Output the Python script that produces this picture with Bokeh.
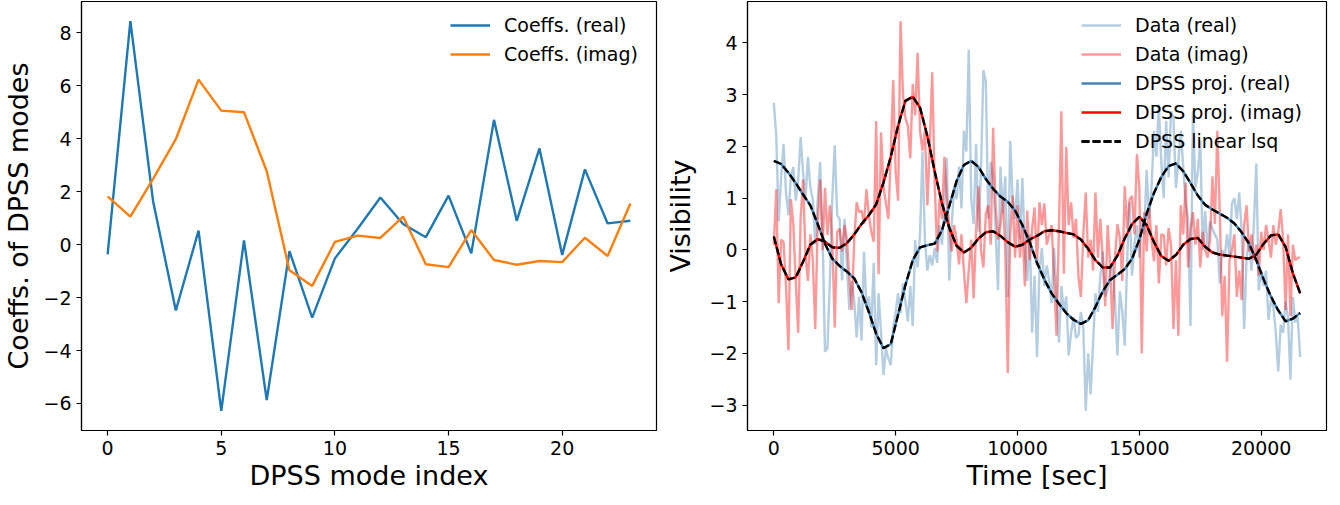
from bokeh.plotting import figure
from bokeh.layouts import row
from bokeh.models import Range1d, FixedTicker, CustomJSTickFormatter
from bokeh.embed import file_html
from bokeh.resources import INLINE

# ---------------- data: left panel ----------------
mode_index = list(range(24))
coeff_real = [-0.37, 8.44, 1.64, -2.49, 0.53, -6.28, 0.16, -5.87, -0.25, -2.76,
              -0.52, 0.60, 1.78, 0.78, 0.28, 1.85, -0.33, 4.71, 0.90, 3.63,
              -0.39, 2.84, 0.80, 0.90]
coeff_imag = [1.82, 1.06, 2.48, 3.98, 6.23, 5.06, 5.00, 2.77, -0.97, -1.56,
              0.10, 0.34, 0.25, 1.06, -0.74, -0.85, 0.55, -0.58, -0.76, -0.62,
              -0.66, 0.26, -0.43, 1.55]

# ---------------- data: right panel ----------------
time_sec = list(range(0, 21601, 100))
data_real = [
    2.84, 2.20, 0.55, 1.40, 2.05, 1.10, 0.67, 1.42, 1.60, 0.95,
    1.35, 2.18, 1.50, 0.98, 1.80, 1.20, 0.98, 0.10, 0.95, 1.70,
    0.30, -1.97, -1.90, -0.60, 1.00, 2.02, 0.67, 0.60, -0.59, 0.60,
    -0.30, -1.16, -0.60, -1.00, -1.69, -0.90, -1.75, -0.03, -1.10, -0.90,
    -1.50, -0.25, -2.23, -0.84, -1.60, -2.42, -1.90, -2.10, -2.23, -1.50,
    -1.20, -0.84, -1.22, -0.65, -1.00, -1.38, -0.70, -1.47, 0.19, -0.34,
    0.30, 1.90, 0.20, -0.40, -0.10, -0.30, 0.04, -0.25, 0.48, 0.10,
    0.90, 1.78, -0.59, 0.50, 1.20, 0.98, 1.61, 0.80, 2.30, 1.90,
    3.87, 1.00, 0.50, 2.05, 0.35, 1.50, 3.47, 3.25, 0.60, 1.70,
    1.40, 0.40, -0.78, 1.61, 0.70, 1.42, -0.91, 2.11, 1.00, 0.60,
    1.36, 0.20, 1.39, 0.00, -0.60, 0.30, -1.60, -0.50, -2.07, -0.40,
    0.04, -0.70, -0.30, -0.60, -1.03, 0.04, -0.80, -1.79, -0.70, -1.20,
    -0.90, -2.04, -1.60, -1.30, -1.70, -1.65, -1.20, -1.50, -3.11, -2.00,
    -2.79, -1.80, -0.84, -1.20, -0.50, -0.03, -0.90, -0.78, -0.40, -0.28,
    -1.00, -2.04, -0.80, -1.20, -1.85, -0.20, 0.92, -0.50, 0.10, 0.48,
    -0.15, 0.60, 0.30, 1.55, 0.60, 1.20, 2.30, 1.80, 2.81, 1.70,
    1.00, 2.49, 1.40, 2.68, 2.55, 1.20, 1.70, 2.30, 1.60, 0.90,
    0.60, -1.47, 2.68, 1.20, 1.50, 2.11, 0.00, 0.75, 0.00, 0.55,
    0.40, 0.30, 0.20, -0.65, 0.00, -0.15, 0.30, -0.10, 0.90, 1.00,
    0.60, 1.11, 0.35, -1.53, -0.15, 0.20, -0.40, 0.50, 1.67, -0.78,
    -0.40, -0.70, -0.40, -1.35, -0.97, -1.10, -1.60, -2.35, -1.45, -1.60,
    -1.00, -1.30, -2.51, -0.91, -1.40, -1.30, -2.07]
data_imag = [
    0.10, 1.17, -1.03, 0.20, 0.15, -0.70, -1.94, 0.98, 0.50, -0.60,
    -1.60, 0.60, 1.36, -0.10, -0.60, 0.30, -0.20, -1.53, 0.50, 1.36,
    0.00, 1.20, 0.29, 0.86, 0.20, -1.50, 0.35, 0.41, -0.03, 0.48,
    0.20, -0.53, -1.16, 0.20, 0.92, 0.73, 0.76, 0.50, 1.17, 0.67,
    0.35, 0.16, 2.49, -0.47, 2.27, 1.23, 0.90, 0.60, 1.86, 3.28,
    1.50, 0.95, 4.42, 3.00, 2.55, 2.40, 1.77, 3.21, 2.60, 3.81,
    2.30, 1.92, 2.30, 0.86, 2.00, 3.43, 1.30, -0.03, 0.98, 0.60,
    1.80, 0.98, 0.40, -0.03, 0.48, 0.20, -0.28, 0.30, -0.40, -1.03,
    -0.40, 0.20, -0.94, 0.40, 1.23, 0.00, -0.34, 0.70, 0.86, 0.10,
    2.36, 0.86, 0.20, 0.48, 0.98, 0.00, -2.38, 0.29, 1.05, -0.15,
    0.86, -0.15, 0.50, -0.70, 0.76, -0.20, 0.40, 0.82, -0.30, 0.92,
    0.48, 0.90, 0.10, 0.29, 0.48, -0.50, -1.66, 0.40, 2.68, -0.46,
    1.99, 0.48, 0.92, 0.23, 0.60, -0.50, -0.91, 0.30, 1.11, -0.15,
    0.20, -0.40, 1.11, -0.15, 0.60, -0.20, -1.09, 0.48, -0.30, -1.53,
    -0.15, 0.50, 0.23, -0.60, 1.23, 0.40, 0.98, 1.04, 0.30, 1.85,
    1.20, -2.00, 0.73, -0.03, 0.86, 0.20, -0.22, 0.48, -0.65, 0.30,
    0.29, -0.30, 0.42, 0.10, -1.53, -0.20, -1.66, 0.86, 0.30, 1.30,
    -0.34, 0.40, 0.73, 0.10, 0.60, -0.34, 0.35, 0.00, -0.15, 0.20,
    1.42, 0.50, 2.30, 0.73, -1.28, -0.50, -2.16, -0.20, 0.00, 0.30,
    -0.91, -0.40, -0.97, 0.48, 0.86, -0.03, 0.30, -0.20, 0.10, -0.50,
    0.35, 0.00, 0.48, 0.20, -0.15, 0.48, 0.10, 0.35, 0.79, 0.20,
    -1.16, 0.30, -1.28, 0.10, -0.20, -0.15, -0.15]

proj_time = list(range(0, 21601, 300))
proj_real = [
    1.72, 1.66, 1.49, 1.29, 1.07, 0.86, 0.50, 0.12, -0.17, -0.31,
    -0.42, -0.55, -0.82, -1.20, -1.62, -1.90, -1.82, -1.25, -0.68, -0.20,
    0.05, 0.09, 0.12, 0.38, 0.85, 1.33, 1.64, 1.72, 1.60, 1.37,
    1.18, 1.03, 0.93, 0.76, 0.48, 0.15, -0.25, -0.57, -0.84, -1.04,
    -1.22, -1.35, -1.43, -1.36, -1.10, -0.80, -0.58, -0.48, -0.37, -0.17,
    0.20, 0.70, 1.10, 1.41, 1.62, 1.67, 1.52, 1.29, 1.05, 0.87,
    0.78, 0.70, 0.62, 0.51, 0.34, 0.12, -0.20, -0.57, -0.90, -1.17,
    -1.38, -1.33, -1.22]
proj_imag = [
    0.26, -0.28, -0.57, -0.53, -0.23, 0.10, 0.21, 0.16, 0.05, 0.04,
    0.13, 0.30, 0.50, 0.67, 0.88, 1.30, 1.80, 2.40, 2.88, 2.96,
    2.75, 2.20, 1.52, 0.90, 0.43, 0.08, -0.05, 0.04, 0.22, 0.34,
    0.36, 0.27, 0.15, 0.06, 0.10, 0.20, 0.27, 0.36, 0.38, 0.36,
    0.33, 0.30, 0.20, 0.02, -0.20, -0.34, -0.34, -0.11, 0.22, 0.50,
    0.64, 0.48, 0.15, -0.12, -0.21, -0.10, 0.10, 0.21, 0.23, 0.06,
    -0.05, -0.09, -0.11, -0.13, -0.15, -0.17, -0.09, 0.12, 0.28, 0.30,
    0.06, -0.45, -0.84]
lsq_real = proj_real
lsq_imag = proj_imag

left_xticks = [0, 5, 10, 15, 20]
left_yticks = [-6, -4, -2, 0, 2, 4, 6, 8]
right_xticks = [0, 5000, 10000, 15000, 20000]
right_yticks = [-3, -2, -1, 0, 1, 2, 3, 4]

FONT = "DejaVu Sans"
LW = 2.4
minus_fmt = "return (tick < 0 ? '\\u2212' : '') + Math.abs(tick).toString();"


def style(p, xticks, yticks, xlabel, ylabel, ylabel_standoff):
    p.xgrid.visible = False
    p.ygrid.visible = False
    p.outline_line_color = "black"
    p.outline_line_width = 1.2
    p.background_fill_color = "white"
    p.border_fill_color = "white"
    p.xaxis.ticker = FixedTicker(ticks=xticks)
    p.yaxis.ticker = FixedTicker(ticks=yticks)
    p.xaxis.axis_label = xlabel
    p.yaxis.axis_label = ylabel
    for ax in p.xaxis + p.yaxis:
        ax.formatter = CustomJSTickFormatter(code=minus_fmt)
        ax.major_label_text_font = FONT
        ax.major_label_text_font_size = "19px"
        ax.major_label_text_color = "black"
        ax.axis_label_text_font = FONT
        ax.axis_label_text_font_size = "27px"
        ax.axis_label_text_font_style = "normal"
        ax.axis_label_text_color = "black"
        ax.major_tick_out = 5
        ax.major_tick_in = 0
        ax.minor_tick_out = 0
        ax.minor_tick_in = 0
        ax.major_tick_line_width = 1.2
        ax.major_tick_line_color = "black"
        ax.axis_line_width = 1.2
        ax.axis_line_color = "black"
    p.xaxis.major_label_standoff = 5
    p.xaxis.axis_label_standoff = 2
    p.yaxis.major_label_standoff = 5
    p.yaxis.axis_label_standoff = ylabel_standoff


def style_legend(p, label_width):
    lg = p.legend[0]
    lg.location = "top_right"
    lg.margin = 0
    lg.padding = 13
    lg.spacing = 7
    lg.label_height = 20
    lg.glyph_height = 20
    lg.glyph_width = 40
    lg.label_standoff = 14
    lg.label_width = label_width
    lg.border_line_alpha = 0
    lg.background_fill_alpha = 0
    lg.label_text_font = FONT
    lg.label_text_font_size = "19px"
    lg.label_text_color = "black"


# ---------------- left figure ----------------
p1 = figure(width=662, height=497, output_backend="svg", toolbar_location=None,
            x_range=Range1d(-1.15, 24.15), y_range=Range1d(-7.02, 9.18),
            min_border_left=74, min_border_right=6, min_border_top=1,
            min_border_bottom=67)
p1.line(mode_index, coeff_real, line_color="#1f77b4", line_width=LW,
        legend_label="Coeffs. (real)")
p1.line(mode_index, coeff_imag, line_color="#ff7f0e", line_width=LW,
        legend_label="Coeffs. (imag)")
style(p1, left_xticks, left_yticks, "DPSS mode index", "Coeffs. of DPSS modes", 6)
style_legend(p1, 139)

# ---------------- right figure ----------------
p2 = figure(width=666, height=497, output_backend="svg", toolbar_location=None,
            x_range=Range1d(-1080, 22680), y_range=Range1d(-3.49, 4.80),
            min_border_left=82, min_border_right=2, min_border_top=1,
            min_border_bottom=67)
p2.line(time_sec, data_real, line_color="steelblue", line_alpha=0.4,
        line_width=LW, legend_label="Data (real)")
p2.line(time_sec, data_imag, line_color="red", line_alpha=0.4,
        line_width=LW, legend_label="Data (imag)")
p2.line(proj_time, proj_real, line_color="steelblue", line_width=LW,
        legend_label="DPSS proj. (real)")
p2.line(proj_time, proj_imag, line_color="red", line_width=LW,
        legend_label="DPSS proj. (imag)")
p2.line(proj_time, lsq_real, line_color="black", line_width=LW,
        line_dash="8 3", legend_label="DPSS linear lsq")
p2.line(proj_time, lsq_imag, line_color="black", line_width=LW,
        line_dash="8 3", legend_label="DPSS linear lsq")
style(p2, right_xticks, right_yticks, "Time [sec]", "Visibility", 10)
style_legend(p2, 178)

layout = row(p1, p2)
open("out.html", "w").write(file_html(layout, INLINE))
